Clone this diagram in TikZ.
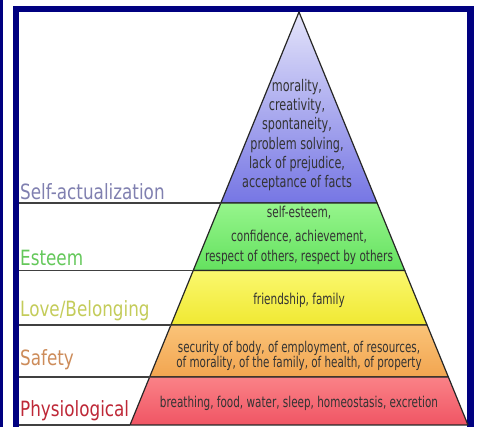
\documentclass[tikz,border=0pt]{standalone}
\usepackage{fontspec}
\setmainfont{DejaVu Sans}
\newfontfamily\levelfont{DejaVu Sans}[FakeStretch=0.8]
\newfontfamily\needfont{DejaVu Sans}[FakeStretch=0.7]
\usetikzlibrary{calc}

\definecolor{framec}{RGB}{0,0,128}
\definecolor{selfc}{RGB}{128,128,176}
\definecolor{esteemc}{RGB}{100,200,90}
\definecolor{lovec}{RGB}{196,204,90}
\definecolor{safetyc}{RGB}{205,140,90}
\definecolor{physc}{RGB}{190,40,55}

\begin{document}
\begin{tikzpicture}[x=1pt,y=-1pt]
\tikzstyle{layer}=[draw=black!85,line width=1.2pt,line join=round]
\tikzstyle{divider}=[draw=black!75,line width=1.2pt]
\tikzstyle{tier}=[anchor=base west,inner sep=0pt,font=\levelfont\fontsize{21}{22}\selectfont]
\tikzstyle{needs}=[align=center,text=black!80,inner sep=0pt]

\clip (0,0) rectangle (477,427);
\fill[white] (0,0) rectangle (477,427);
\fill[framec] (0,0) rectangle (3,427);
\draw[framec,line width=6.5pt] (16,9) rectangle (470.5,450);

\coordinate (apex) at (299,12);
\coordinate (bl) at (130,425);
\coordinate (br) at (468,425);
\coordinate (edge) at (19,0);
\coordinate (l1) at ($(apex)!0.4625!(bl)$);
\coordinate (r1) at ($(apex)!0.4625!(br)$);
\coordinate (l2) at ($(apex)!0.6259!(bl)$);
\coordinate (r2) at ($(apex)!0.6259!(br)$);
\coordinate (l3) at ($(apex)!0.7579!(bl)$);
\coordinate (r3) at ($(apex)!0.7579!(br)$);
\coordinate (l4) at ($(apex)!0.8838!(bl)$);
\coordinate (r4) at ($(apex)!0.8838!(br)$);

\path[layer,top color={rgb,255:red,228;green,228;blue,250},bottom color={rgb,255:red,118;green,118;blue,228}]
  (apex) -- (r1) -- (l1) -- cycle;
\path[layer,top color={rgb,255:red,150;green,245;blue,140},bottom color={rgb,255:red,100;green,225;blue,95}]
  (l1) -- (r1) -- (r2) -- (l2) -- cycle;
\path[layer,top color={rgb,255:red,250;green,248;blue,110},bottom color={rgb,255:red,240;green,232;blue,50}]
  (l2) -- (r2) -- (r3) -- (l3) -- cycle;
\path[layer,top color={rgb,255:red,250;green,195;blue,120},bottom color={rgb,255:red,242;green,165;blue,80}]
  (l3) -- (r3) -- (r4) -- (l4) -- cycle;
\path[layer,top color={rgb,255:red,250;green,130;blue,135},bottom color={rgb,255:red,240;green,85;blue,100}]
  (l4) -- (r4) -- (br) -- (bl) -- cycle;

\draw[divider] (edge |- l1) -- (l1);
\draw[divider] (edge |- l2) -- (l2);
\draw[divider] (edge |- l3) -- (l3);
\draw[divider] (edge |- l4) -- (l4);
\draw[divider] (edge |- bl) -- (bl);

\node[tier,text=selfc] (selfname) at (20,199.5) {Self-actualization};
\node[tier,text=esteemc] (esteemname) at (20,266) {Esteem};
\node[tier,text=lovec] (lovename) at (20,317) {Love/Belonging};
\node[tier,text=safetyc] (safetyname) at (20,366) {Safety};
\node[tier,text=physc] (physname) at (20,417) {Physiological};

\node[needs,font=\needfont\fontsize{16}{19.3}\selectfont] (selftext) at (297,135)
  {morality,\\creativity,\\spontaneity,\\problem solving,\\lack of prejudice,\\acceptance of facts};
\node[needs,font=\needfont\fontsize{15}{20}\selectfont] (esteemtext) at (299,235)
  {self-esteem,\\[4pt]confidence, achievement,\\respect of others, respect by others};
\node[needs,font=\needfont\fontsize{15}{16}\selectfont] (lovetext) at (299,300)
  {friendship, family};
\node[needs,font=\needfont\fontsize{14.8}{15.5}\selectfont] (safetytext) at (299,356)
  {security of body, of employment, of resources,\\of morality, of the family, of health, of property};
\node[needs,font=\needfont\fontsize{14.9}{15}\selectfont] (phystext) at (299,403)
  {breathing, food, water, sleep, homeostasis, excretion};
\end{tikzpicture}
\end{document}
